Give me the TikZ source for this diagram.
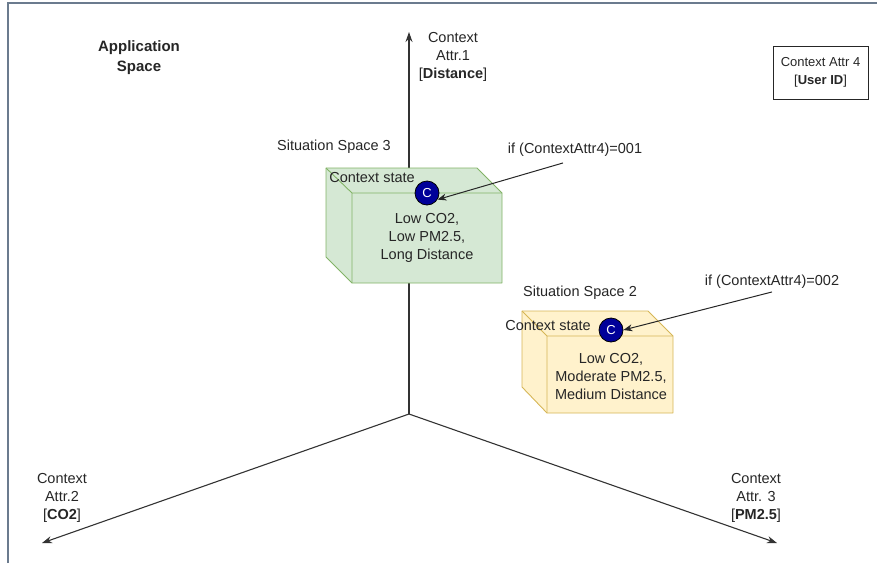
\documentclass[tikz,border=0pt]{standalone}
\usepackage{fontspec}
\setmainfont{Liberation Sans}
\usetikzlibrary{arrows.meta}
\definecolor{axisgray}{HTML}{333333}
\definecolor{framecol}{HTML}{6B7B8E}
\definecolor{greenfill}{HTML}{D5E8D4}
\definecolor{greenline}{HTML}{82B366}
\definecolor{yellowfill}{HTML}{FFF2CC}
\definecolor{yellowline}{HTML}{D6B656}
\definecolor{statecol}{HTML}{000099}
\begin{document}
\begin{tikzpicture}[x=1pt,y=-1pt,
  txt/.style={font=\fontsize{14.5}{18}\selectfont, align=center, inner sep=0pt, text=black!85},
  axisline/.style={draw=axisgray, line width=1.1pt, -{Stealth[length=10pt,width=7pt]}},
  pointer/.style={draw=black!85, line width=1pt, -{Stealth[length=9pt,width=7pt]}},
  statenode/.style={circle, draw=black, line width=0.8pt, fill=statecol, minimum size=24pt,
    inner sep=0pt, text=white, font=\fontsize{13}{13}\selectfont},
  greencube/.style={fill=greenfill, draw=greenline, line width=0.9pt, line join=round},
  yellowcube/.style={fill=yellowfill, draw=yellowline, line width=0.9pt, line join=round},
]
\useasboundingbox (0,0) rectangle (877,563);

% frame
\draw[framecol, line width=1.6pt] (8,563) -- (8,3) -- (877,3);

% heading
\node[txt, font=\bfseries\fontsize{15}{20}\selectfont] (app) at (139,58) {Application\\Space};

% axes
\coordinate (O) at (409,414);
\coordinate (tipA) at (409,32);
\coordinate (tipB) at (42,543);
\coordinate (tipC) at (777,543);
\draw[axisline] (O) -- (tipA);
\draw[axisline] (O) -- (tipB);
\draw[axisline] (O) -- (tipC);

\node[txt] (lblA) at (453,57) {Context\\Attr.1\\{[}\textbf{Distance}{]}};
\node[txt] (lblB) at (62,498) {Context\\Attr.2\\{[}\textbf{CO2}{]}};
\node[txt] (lblC) at (756,498) {Context\\Attr. 3\\{[}\textbf{PM2.5}{]}};

% user id box
\node[txt, font=\fontsize{13}{18.5}\selectfont, draw=black!85, line width=0.9pt,
  minimum width=95pt, minimum height=53pt] (attr4) at (820.5,72.5)
  {Context Attr 4\\{[}\textbf{User ID}{]}};

% situation space 3 (green cube)
\filldraw[greencube] (326,168) -- (477,168) -- (502,193) -- (502,283) -- (352,283) -- (326,257) -- cycle;
\draw[greencube, fill=none] (326,168) -- (352,193) -- (502,193) (352,193) -- (352,283);
\node[txt] (ss3) at (334,147) {Situation Space 3};
\node[txt] (cs3) at (372,178) {Context state};
\node[statenode] (c3) at (427,193) {C};
\node[txt] (v3) at (427,238) {Low CO2,\\Low PM2.5,\\Long Distance};
\node[txt] (if3) at (575,150) {if (ContextAttr4)=001};
\draw[pointer] ([xshift=-12pt,yshift=-6pt]if3.south) -- (c3.-32);

% situation space 2 (yellow cube)
\filldraw[yellowcube] (522,311) -- (648,311) -- (673,336) -- (673,413) -- (547,413) -- (522,387) -- cycle;
\draw[yellowcube, fill=none] (522,311) -- (547,336) -- (673,336) (547,336) -- (547,413);
\node[txt] (ss2) at (580,293) {Situation Space 2};
\node[txt] (cs2) at (548,326) {Context state};
\node[statenode] (c2) at (611,330) {C};
\node[txt] (v2) at (611,376) {Low CO2,\\Moderate PM2.5,\\Medium Distance};
\node[txt] (if2) at (772,282) {if (ContextAttr4)=002};
\draw[pointer] ([yshift=-3pt]if2.south) -- (c2.east);
\end{tikzpicture}
\end{document}
